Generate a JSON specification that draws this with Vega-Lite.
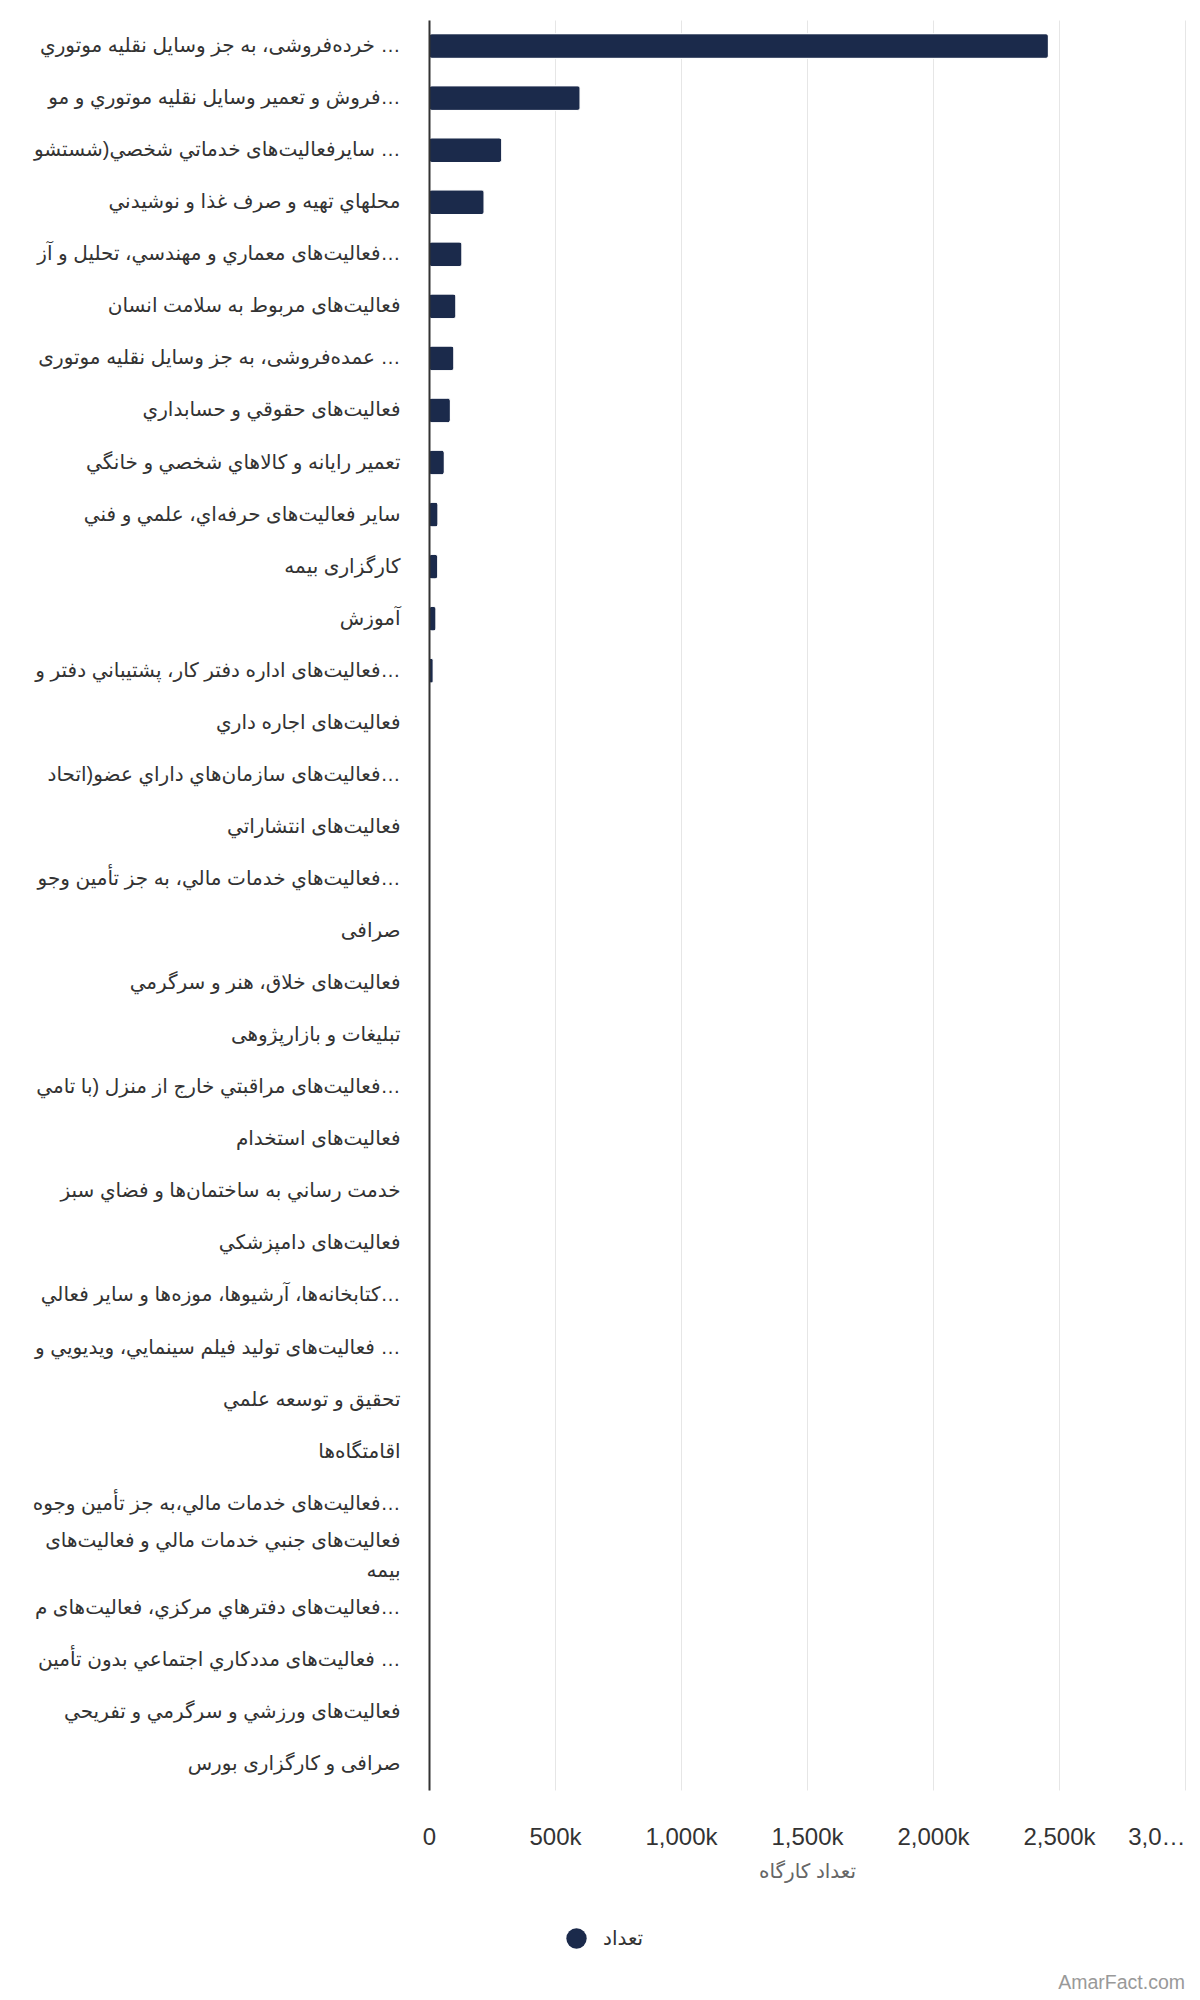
{
  "$schema": "https://vega.github.io/schema/vega-lite/v6.json",
  "width": 756,
  "height": 1770,
  "autosize": {"type": "none"},
  "padding": {"left": 429, "top": 20, "right": 15, "bottom": 210},
  "background": "#ffffff",
  "title": {
    "text": "AmarFact.com",
    "orient": "bottom",
    "anchor": "end",
    "frame": "group",
    "offset": 25,
    "color": "#999999",
    "fontSize": 19.5,
    "fontWeight": "normal"
  },
  "data": {
    "values": [
      {"activity": "خرده‌فروشی، به جز وسایل نقلیه موتوري و موتورسیکلت", "count": 2458000},
      {"activity": "فروش و تعمیر وسایل نقلیه موتوري و موتورسیکلت", "count": 600000},
      {"activity": "سایرفعالیت‌های خدماتي شخصي(شستشو و خشکشویی، آرایشگاه)", "count": 289000},
      {"activity": "محلهاي تهيه و صرف غذا و نوشيدني", "count": 219000},
      {"activity": "فعالیت‌های معماري و مهندسي، تحليل و آزمايش‌هاي فني", "count": 131000},
      {"activity": "فعالیت‌های مربوط به سلامت انسان", "count": 107000},
      {"activity": "عمده‌فروشی، به جز وسایل نقلیه موتوری و موتورسیکلت", "count": 99000},
      {"activity": "فعالیت‌های حقوقي و حسابداري", "count": 85000},
      {"activity": "تعمير رايانه و كالاهاي شخصي و خانگي", "count": 61000},
      {"activity": "ساير فعالیت‌های حرفه‌اي، علمي و فني", "count": 36000},
      {"activity": "کارگزاری بیمه", "count": 35000},
      {"activity": "آموزش", "count": 28000},
      {"activity": "فعالیت‌های اداره دفتر کار، پشتيباني دفتر و ساير فعالیت‌های پشتيباني", "count": 17000},
      {"activity": "فعالیت‌های اجاره داري", "count": 1900},
      {"activity": "فعالیت‌های سازمان‌هاي داراي عضو(اتحاديه‌ها و انجمن‌ها)", "count": 1700},
      {"activity": "فعالیت‌های انتشاراتي", "count": 1500},
      {"activity": "فعالیت‌هاي خدمات مالي، به جز تأمین وجوه بیمه و بازنشستگی", "count": 1400},
      {"activity": "صرافی", "count": 1300},
      {"activity": "فعالیت‌های خلاق، هنر و سرگرمي", "count": 1200},
      {"activity": "تبلیغات و بازارپژوهی", "count": 1100},
      {"activity": "فعالیت‌های مراقبتي خارج از منزل (با تامين مسكن)", "count": 1000},
      {"activity": "فعالیت‌های استخدام", "count": 900},
      {"activity": "خدمت رساني به ساختمان‌ها و فضاي سبز", "count": 850},
      {"activity": "فعالیت‌های دامپزشكي", "count": 800},
      {"activity": "کتابخانه‌ها، آرشیوها، موزه‌ها و ساير فعاليت‌هاي فرهنگي", "count": 700},
      {"activity": "فعالیت‌های توليد فيلم سينمايي، ويديويي و برنامه‌هاي تلويزيوني", "count": 600},
      {"activity": "تحقيق و توسعه علمي", "count": 500},
      {"activity": "اقامتگاه‌ها", "count": 450},
      {"activity": "فعالیت‌های خدمات مالي،به جز تأمین وجوه بیمه و بازنشستگی", "count": 400},
      {"activity": "فعالیت‌های جنبي خدمات مالي و فعالیت‌های بیمه", "count": 350},
      {"activity": "فعالیت‌های دفترهاي مركزي، فعالیت‌های مشاوره مديريت", "count": 300},
      {"activity": "فعالیت‌های مددكاري اجتماعي بدون تأمين مسكن", "count": 200},
      {"activity": "فعالیت‌های ورزشي و سرگرمي و تفريحي", "count": 150},
      {"activity": "صرافی و کارگزاری بورس", "count": 100}
    ]
  },
  "mark": {
    "type": "bar",
    "cornerRadius": 3,
    "stroke": "#ffffff",
    "strokeWidth": 1
  },
  "encoding": {
    "y": {
      "field": "activity",
      "type": "nominal",
      "sort": null,
      "scale": {"paddingInner": 0.525, "paddingOuter": 0.2625},
      "axis": {
        "title": null,
        "zindex": 1,
        "ticks": false,
        "grid": false,
        "domainColor": "#333333",
        "domainWidth": 2,
        "labelFontSize": 20,
        "labelColor": "#333333",
        "labelLimit": 368,
        "labelPadding": 29,
        "labelLineHeight": 30,
        "labelOffset": {"expr": "datum.value == 'فعالیت‌های جنبي خدمات مالي و فعالیت‌های بیمه' ? -15 : 0"},
        "labelExpr": "datum.value == 'فعالیت‌های جنبي خدمات مالي و فعالیت‌های بیمه' ? ['فعالیت‌های جنبي خدمات مالي و فعالیت‌های', 'بیمه'] : datum.value"
      }
    },
    "x": {
      "field": "count",
      "type": "quantitative",
      "scale": {"domain": [0, 3000000], "nice": false},
      "axis": {
        "title": "تعداد کارگاه",
        "titleFontSize": 20,
        "titleFontWeight": "normal",
        "titleColor": "#666666",
        "titlePadding": 12,
        "values": [0, 500000, 1000000, 1500000, 2000000, 2500000, 3000000],
        "labelExpr": "datum.value == 0 ? '0' : datum.value == 3000000 ? '3,0…' : format(datum.value / 1000, ',') + 'k'",
        "labelAlign": {"expr": "datum.value == 3000000 ? 'right' : 'center'"},
        "labelFontSize": 24,
        "labelColor": "#333333",
        "labelPadding": 35,
        "ticks": false,
        "domain": false,
        "gridColor": "#e6e6e6",
        "gridWidth": 1
      }
    },
    "color": {
      "datum": "تعداد",
      "type": "nominal",
      "scale": {"range": ["#1b2a4b"]},
      "legend": {
        "title": null,
        "orient": "none",
        "legendX": 137,
        "legendY": 1908,
        "padding": 0,
        "symbolType": "circle",
        "symbolSize": 415,
        "symbolStrokeWidth": 0,
        "labelFontSize": 20,
        "labelColor": "#333333",
        "labelOffset": 16
      }
    }
  },
  "config": {
    "font": "Arial, Liberation Sans, DejaVu Sans",
    "view": {"stroke": null}
  }
}
